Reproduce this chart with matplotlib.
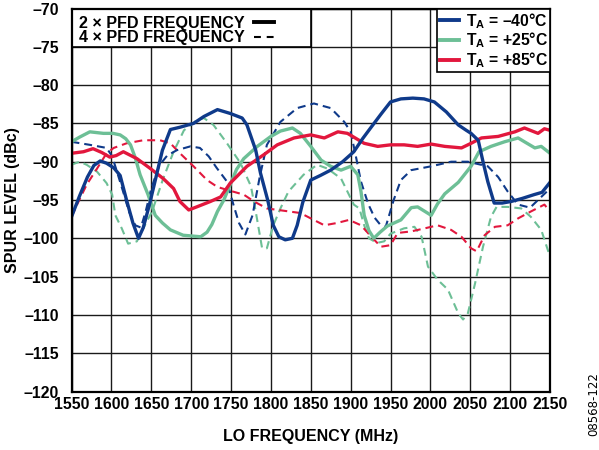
import matplotlib
matplotlib.use("Agg")
import matplotlib.pyplot as plt
from matplotlib.lines import Line2D
from matplotlib.patches import Rectangle

plt.rcParams['font.family'] = ['Liberation Sans', 'DejaVu Sans']
plt.rcParams['font.weight'] = 'bold'
plt.rcParams['mathtext.fontset'] = 'custom'
plt.rcParams['mathtext.rm'] = 'Liberation Sans:bold'
plt.rcParams['mathtext.it'] = 'Liberation Sans:bold'
plt.rcParams['mathtext.bf'] = 'Liberation Sans:bold'

# ---------------- data ----------------
blue_2x_f = [1550,1560,1570,1578,1586,1594,1603,1611,1619,1627,1634,1640,1648,1656,1664,1674,1686,1703,1716,1733,1749,1764,1770,1781,1787,1796,1803,1810,1818,1827,1833,1840,1850,1862,1875,1890,1904,1915,1925,1938,1950,1963,1978,1992,2005,2020,2035,2045,2051,2060,2066,2072,2080,2090,2101,2115,2130,2140,2150]
blue_2x_v = [-97.2,-94.5,-92,-90.5,-89.9,-90.2,-90.8,-91.8,-95,-98,-100,-98.6,-95.5,-92,-88.5,-85.8,-85.5,-85,-84.1,-83.2,-83.7,-84.3,-85.2,-88.5,-91.5,-95,-98.3,-99.8,-100.2,-100,-98.3,-95.3,-92.4,-91.8,-91.1,-90,-88.7,-87,-85.6,-83.8,-82.2,-81.8,-81.7,-81.8,-82.2,-83.5,-85.2,-85.9,-86.3,-87.2,-90,-92.6,-95.4,-95.4,-95.2,-94.8,-94.3,-94,-92.7]

blue_4x_f = [1550,1573,1594,1601,1607,1615,1622,1630,1637,1643,1650,1660,1670,1682,1699,1711,1722,1732,1745,1753,1760,1768,1777,1786,1795,1812,1833,1854,1875,1892,1900,1906,1913,1922,1930,1937,1944,1954,1963,1976,2001,2026,2047,2072,2085,2097,2110,2125,2140,2150]
blue_4x_v = [-87.4,-87.8,-88.2,-89.3,-91.3,-94,-96.5,-98.3,-98.6,-96.5,-93.5,-90.5,-89.2,-88.5,-88,-88.2,-89.3,-90.8,-92.6,-95.6,-98,-99.5,-97,-92,-87.8,-84.8,-83,-82.4,-83,-84.8,-86.1,-89,-92.6,-95.5,-97.3,-98.2,-98.5,-95,-92.4,-91.1,-90.6,-90,-90,-90.6,-92,-93.9,-95.6,-96,-94.5,-93.5]

green_2x_f = [1550,1560,1573,1590,1602,1611,1618,1624,1630,1636,1646,1655,1664,1674,1690,1712,1720,1726,1733,1741,1749,1757,1766,1783,1800,1812,1827,1837,1850,1863,1875,1888,1900,1909,1913,1917,1923,1929,1937,1946,1963,1976,1984,2001,2009,2018,2035,2051,2061,2076,2093,2110,2118,2131,2139,2150]
green_2x_v = [-87.4,-86.8,-86.1,-86.3,-86.3,-86.5,-87,-87.8,-89.5,-91.7,-94.3,-97,-98,-98.9,-99.6,-99.8,-99.2,-98.2,-96.5,-95,-93,-91,-89.6,-88,-86.7,-86,-85.6,-86.3,-88,-89.8,-90.6,-91.1,-90.6,-91.7,-93.9,-97,-99,-100,-99.2,-98.4,-97.6,-96,-95.9,-97,-95.5,-94.2,-92.7,-90.6,-88.7,-88,-87.4,-86.9,-87.4,-88.2,-88,-88.9]

green_4x_f = [1550,1560,1569,1582,1594,1601,1605,1613,1621,1632,1640,1651,1665,1678,1691,1707,1716,1728,1745,1762,1775,1781,1789,1795,1803,1812,1822,1841,1858,1871,1888,1896,1904,1911,1917,1923,1933,1942,1950,1967,1980,1989,1997,2009,2022,2035,2041,2047,2056,2066,2076,2083,2097,2114,2126,2139,2150]
green_4x_v = [-90.4,-90,-90.4,-91.3,-92.8,-94.3,-97,-98.7,-100.7,-100.4,-98.7,-96.5,-92.2,-88.7,-85.9,-84.6,-84.3,-85.2,-87.6,-90.2,-93.2,-96.5,-101.3,-101.3,-98.3,-96.1,-93.9,-91.7,-90.4,-90.9,-92.2,-93.9,-95.6,-96.1,-98.3,-100,-100.6,-100.4,-99.4,-98.7,-98.5,-99.8,-103.7,-105.4,-106.7,-109.8,-110.6,-109.8,-105.9,-101.1,-97.2,-95.9,-95.9,-96.1,-97.2,-98.9,-102.4]

red_2x_f = [1550,1565,1577,1588,1598,1606,1615,1632,1649,1665,1678,1686,1697,1707,1724,1737,1749,1770,1791,1808,1829,1850,1867,1884,1896,1917,1934,1950,1967,1984,2001,2018,2039,2051,2064,2085,2106,2118,2135,2143,2150]
red_2x_v = [-88.9,-88.7,-88.3,-88.8,-89.4,-89.2,-88.7,-89.6,-90.9,-92.2,-93.5,-95.2,-96.3,-95.9,-95.2,-94.6,-92.8,-90.6,-89.1,-87.8,-86.9,-86.5,-86.9,-86.1,-86.3,-87.6,-88,-87.8,-87.8,-88,-87.7,-88,-88.2,-87.6,-86.9,-86.7,-86.1,-85.6,-86.3,-85.7,-85.9]

red_4x_f = [1550,1557,1569,1582,1594,1603,1619,1640,1661,1674,1686,1703,1720,1733,1749,1766,1779,1795,1816,1837,1850,1867,1883,1898,1913,1926,1938,1950,1959,1976,1993,2009,2026,2039,2051,2058,2068,2081,2097,2110,2126,2143,2150]
red_4x_v = [-97.2,-95.6,-93,-90.9,-88.9,-88.2,-87.6,-87.2,-87.2,-87.6,-88.9,-90.6,-92.4,-93.3,-93.8,-94.3,-95.2,-96.1,-96.4,-96.7,-97.4,-98.3,-98,-97.6,-98.3,-99.8,-101.1,-100.9,-99.3,-99.1,-98.7,-98.3,-98.9,-99.8,-101.3,-101.7,-99.6,-98.5,-98.3,-97.4,-96.5,-95.6,-96.5]

x_ticks = list(range(1550, 2151, 50))
y_ticks = list(range(-120, -69, 5))
y_tick_labels = [("–" + str(-t)) for t in y_ticks]
temp_labels = ["T$_A$ = –40°C", "T$_A$ = +25°C", "T$_A$ = +85°C"]
mult_labels = ["2 × PFD FREQUENCY", "4 × PFD FREQUENCY"]

BLUE = "#0f3a8a"
GREEN = "#6dbf96"
RED = "#e2173d"

# ---------------- figure ----------------
fig = plt.figure(figsize=(5.99, 4.5), dpi=100)
ax = fig.add_axes([71.5/599, 1-391.5/450, (550-71.5)/599, (391.5-8.5)/450])

dash = (0, (3.8, 2.4))
lw_s = 2.4
lw_d = 1.5
ax.plot(green_4x_f, green_4x_v, color=GREEN, lw=lw_d, ls=dash, zorder=2)
ax.plot(red_4x_f, red_4x_v, color=RED, lw=lw_d, ls=dash, zorder=2)
ax.plot(blue_4x_f, blue_4x_v, color=BLUE, lw=lw_d, ls=dash, zorder=2)
ax.plot(green_2x_f, green_2x_v, color=GREEN, lw=lw_s, zorder=3)
ax.plot(red_2x_f, red_2x_v, color=RED, lw=lw_s, zorder=3)
ax.plot(blue_2x_f, blue_2x_v, color=BLUE, lw=lw_s, zorder=3)

ax.set_xlim(1550, 2150)
ax.set_ylim(-120, -70)
ax.set_xticks(x_ticks)
ax.set_yticks(y_ticks)
ax.set_yticklabels(y_tick_labels)
ax.tick_params(length=0, labelsize=11.4, pad=4)
ax.tick_params(axis='y', pad=9)
ax.set_axisbelow(True)
ax.grid(True, color='#1a1a1a', lw=1.0)
for s in ax.spines.values():
    s.set_linewidth(1.6)
    s.set_color('black')
    s.set_zorder(6)

ax.set_xlabel("LO FREQUENCY (MHz)", fontsize=11.5, fontweight='bold', va='top')
ax.xaxis.set_label_coords(0.5, (391.5-429)/383)
ax.set_ylabel("SPUR LEVEL (dBc)", fontsize=11.5, fontweight='bold')
ax.yaxis.set_label_coords((20-71.5)/478.5, 0.5)

# legend 1 (line multiple)
box1 = Rectangle((0, 0.9), 0.5, 0.1, transform=ax.transAxes, facecolor='white',
                 edgecolor='black', lw=1.2, zorder=4)
ax.add_patch(box1)
h1 = [Line2D([], [], color='black', lw=2.8),
      Line2D([], [], color='black', lw=1.5, ls=(0, (3.3, 2.8)))]
leg1 = ax.legend(h1, mult_labels, loc='upper left', bbox_to_anchor=(0.0, 1.0),
                 frameon=False, markerfirst=False, borderaxespad=0,
                 borderpad=0.45, handlelength=1.25, handletextpad=0.6,
                 labelspacing=-0.03, prop={'weight': 'bold', 'size': 11.6})
leg1.set_zorder(7)
ax.add_artist(leg1)

# legend 2 (temperature)
h2 = [Line2D([], [], color=BLUE, lw=2.8),
      Line2D([], [], color=GREEN, lw=2.8),
      Line2D([], [], color=RED, lw=2.8)]
leg2 = ax.legend(h2, temp_labels, loc='upper right', bbox_to_anchor=(1.0, 1.0),
                 frameon=True, fancybox=False, framealpha=1, edgecolor='black',
                 borderaxespad=0, borderpad=0.15, handlelength=1.25, handletextpad=0.4,
                 labelspacing=0.0, prop={'weight': 'bold', 'size': 11.3})
leg2.get_frame().set_linewidth(1.2)
leg2.set_zorder(7)

fig.text(594/599, 1-404/450, "08568-122", rotation=90, ha='center', va='center',
         fontsize=8.5, fontweight='normal', family=['DejaVu Sans'])

fig.savefig("out.png", dpi=100)
